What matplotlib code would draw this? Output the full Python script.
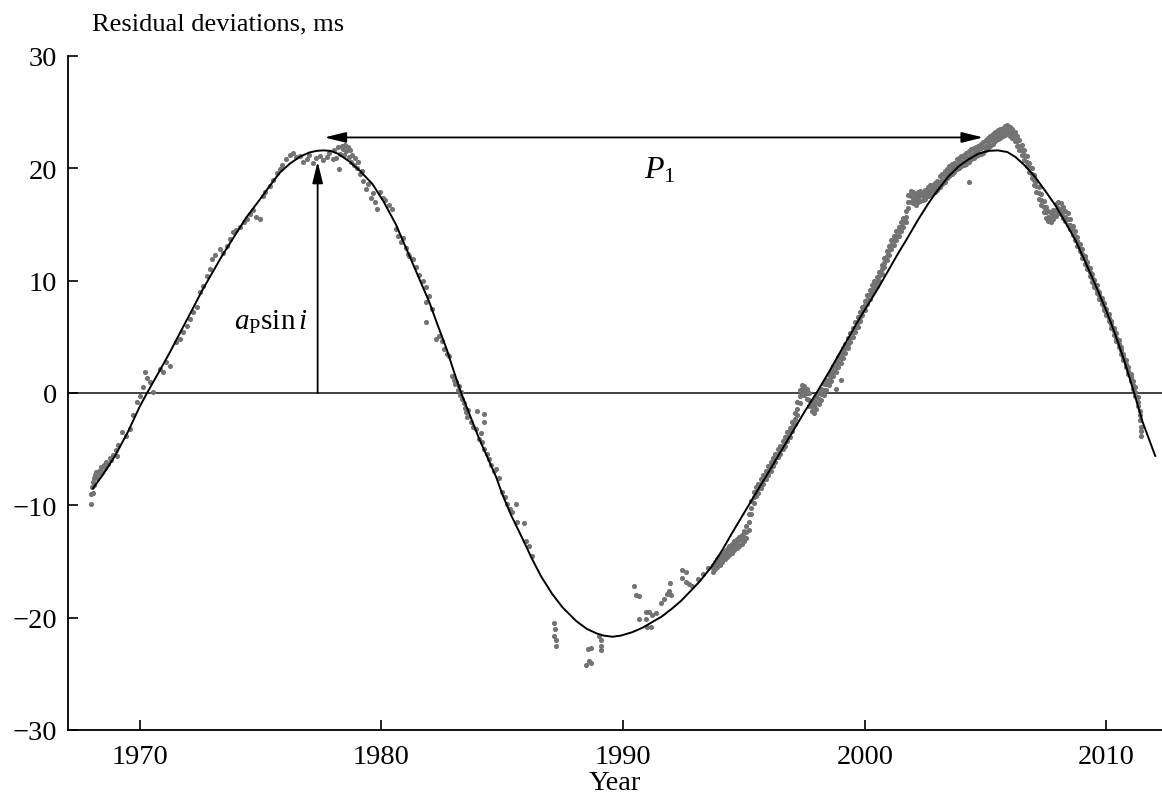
import matplotlib
matplotlib.use("Agg")
import matplotlib.pyplot as plt

plt.rcParams['font.family'] = ['Liberation Serif', 'DejaVu Serif']
plt.rcParams['mathtext.fontset'] = 'custom'
plt.rcParams['mathtext.rm'] = 'Liberation Serif'
plt.rcParams['mathtext.it'] = 'Liberation Serif:italic'

# ---- fitted orbital curve ----
curve_year = [1968.06, 1968.5, 1969.0, 1969.5, 1970.0, 1970.3, 1970.8, 1971.24, 1971.7, 1972.19,
              1972.6, 1973.0, 1973.4, 1973.84, 1974.4, 1974.96, 1975.4, 1975.79, 1976.2, 1976.6,
              1977.0, 1977.3, 1977.6, 1977.9, 1978.2, 1978.68, 1979.1, 1979.63, 1980.1, 1980.6,
              1981.0, 1981.28, 1981.6, 1981.98, 1982.3, 1982.7, 1983.0, 1983.3, 1983.7, 1984.05,
              1984.4, 1984.75, 1985.0, 1985.35, 1985.8, 1986.24, 1986.6, 1987.07, 1987.5, 1988.06,
              1988.5, 1988.9, 1989.2, 1989.56, 1989.9, 1990.37, 1990.8, 1991.2, 1991.6, 1992.02,
              1992.4, 1992.85, 1993.2, 1993.68, 1994.1, 1994.5, 1995.0, 1995.5, 1995.95, 1996.5,
              1997.0, 1997.5, 1998.0, 1998.5, 1999.0, 1999.38, 1999.8, 2000.2, 2000.6, 2001.0,
              2001.4, 2001.74, 2002.2, 2002.64, 2003.0, 2003.47, 2003.9, 2004.3, 2004.7, 2005.1,
              2005.5, 2005.9, 2006.24, 2006.6, 2007.06, 2007.5, 2007.89, 2008.3, 2008.72, 2009.1,
              2009.55, 2010.0, 2010.37, 2010.75, 2011.12, 2011.5, 2012.02]
curve_res = [-8.5, -7.2, -5.5, -3.5, -1.2, 0.0, 1.9, 3.6, 5.5, 7.5,
             9.2, 10.7, 12.2, 13.7, 15.6, 17.2, 18.5, 19.6, 20.4, 21.0,
             21.4, 21.55, 21.6, 21.55, 21.3, 20.6, 19.8, 18.6, 17.0, 15.0,
             13.0, 11.6, 10.0, 8.1, 6.2, 3.9, 1.9, 0.0, -2.2, -4.1,
             -5.8, -7.5, -9.0, -10.8, -12.8, -14.8, -16.3, -17.9, -19.1, -20.3,
             -21.0, -21.4, -21.6, -21.7, -21.6, -21.3, -20.9, -20.4, -19.9, -19.2,
             -18.5, -17.5, -16.7, -15.4, -14.0, -12.5, -10.7, -8.9, -7.3, -5.3,
             -3.5, -1.7, 0.0, 1.8, 3.7, 5.1, 6.7, 8.1, 9.5, 11.0,
             12.5, 13.7, 15.4, 16.9, 18.0, 19.3, 20.2, 20.8, 21.3, 21.55,
             21.6, 21.45, 21.0, 20.3, 19.2, 17.9, 16.7, 15.2, 13.6, 11.8,
             9.6, 7.3, 5.2, 2.8, 0.2, -2.6, -5.6]

# ---- timing residuals, 1968-1978 ----
early_year = [1968.0, 1968.0, 1968.02, 1968.05, 1968.05, 1968.1, 1968.12, 1968.15, 1968.2, 1968.25,
              1968.3, 1968.35, 1968.4, 1968.45, 1968.5, 1968.55, 1968.6, 1968.7, 1968.75, 1968.8,
              1968.9, 1969.0, 1969.05, 1969.1, 1969.26, 1969.45, 1969.6, 1969.7, 1969.88, 1970.0,
              1970.12, 1970.2, 1970.3, 1970.41, 1970.54, 1970.83, 1970.95, 1971.1, 1971.24, 1971.5,
              1971.65, 1971.78, 1971.94, 1972.07, 1972.19, 1972.36, 1972.48, 1972.6, 1972.77, 1972.9,
              1973.0, 1973.1, 1973.3, 1973.43, 1973.6, 1973.72, 1973.84, 1974.0, 1974.13, 1974.3,
              1974.42, 1974.55, 1974.7, 1974.83, 1974.96, 1975.08, 1975.2, 1975.37, 1975.5, 1975.66,
              1975.79, 1975.9, 1976.05, 1976.2, 1976.32, 1976.45, 1976.61, 1976.75, 1976.9, 1977.0,
              1977.15, 1977.3, 1977.44, 1977.6, 1977.73, 1977.85, 1977.98]
early_res = [-9.9, -9.0, -8.4, -7.9, -8.9, -7.6, -8.2, -7.3, -7.0, -7.6,
             -6.9, -7.2, -6.6, -7.0, -6.4, -6.7, -6.1, -6.3, -5.8, -6.0,
             -5.5, -5.1, -5.6, -4.6, -3.5, -3.8, -3.2, -2.0, -0.8, -0.3,
             0.5, 1.9, 1.3, 1.0, 0.1, 2.1, 1.9, 2.8, 2.4, 4.5,
             4.8, 5.4, 6.0, 6.6, 7.2, 7.7, 9.0, 9.5, 10.4, 11.0,
             11.9, 12.3, 12.8, 12.5, 13.1, 13.7, 14.3, 14.5, 14.8, 15.2,
             15.5, 15.9, 16.3, 15.7, 15.5, 17.5, 17.9, 18.4, 19.0, 19.6,
             19.9, 20.3, 20.8, 21.2, 21.4, 21.0, 21.1, 20.6, 20.8, 21.2,
             20.5, 20.9, 21.1, 20.7, 21.0, 21.4, 20.8]

# ---- timing residuals, 1978-1986 ----
descent_year = [1978.05, 1978.1, 1978.2, 1978.26, 1978.3, 1978.35, 1978.4, 1978.45, 1978.5, 1978.55,
                1978.6, 1978.65, 1978.7, 1978.75, 1978.8, 1978.85, 1978.9, 1979.0, 1979.05, 1979.1,
                1979.2, 1979.25, 1979.35, 1979.45, 1979.55, 1979.65, 1979.75, 1979.83, 1979.95, 1980.05,
                1980.15, 1980.3, 1980.45, 1980.6, 1980.7, 1980.8, 1980.9, 1981.0, 1981.1, 1981.16,
                1981.3, 1981.45, 1981.55, 1981.7, 1981.86, 1981.86, 1981.98, 1982.1, 1981.86, 1982.27,
                1982.4, 1982.5, 1982.6, 1982.7, 1982.8, 1982.93, 1983.0, 1983.05, 1983.1, 1983.15,
                1983.2, 1983.25, 1983.3, 1983.35, 1983.4, 1983.45, 1983.5, 1983.55, 1983.6, 1983.7,
                1983.8, 1983.93, 1983.97, 1984.26, 1984.26, 1984.05, 1984.1, 1984.17, 1984.25, 1984.35,
                1984.45, 1984.55, 1984.65, 1984.75, 1984.88, 1985.0, 1985.1, 1985.2, 1985.3, 1985.41,
                1985.58, 1985.6, 1985.91, 1985.99, 1986.12, 1986.24]
descent_res = [21.6, 20.9, 21.9, 19.9, 21.3, 22.0, 21.7, 21.2, 22.1, 21.5,
               21.9, 21.0, 21.6, 20.6, 21.2, 20.3, 20.9, 20.0, 20.6, 19.5,
               19.8, 18.9, 18.2, 18.6, 17.4, 17.8, 17.0, 16.4, 17.9, 17.4,
               17.2, 16.7, 16.4, 14.6, 14.0, 13.4, 13.8, 12.9, 12.4, 12.2,
               11.9, 11.2, 10.5, 10.0, 9.4, 8.1, 8.6, 7.5, 6.3, 4.8,
               5.1, 4.6, 3.9, 3.5, 3.3, 1.5, 1.2, 0.8, 1.0, 0.3,
               0.6, -0.2, 0.1, -0.5, -0.9, -1.3, -1.7, -2.1, -1.5, -2.6,
               -3.0, -3.2, -1.6, -1.9, -2.6, -4.1, -3.6, -4.4, -5.0, -5.4,
               -5.9, -6.4, -6.9, -6.8, -7.6, -8.8, -9.3, -9.9, -10.3, -10.6,
               -9.9, -11.5, -11.6, -13.2, -13.6, -14.5]

# ---- timing residuals around the minimum, 1987-1993 ----
minimum_year = [1987.15, 1987.2, 1987.15, 1987.22, 1987.22, 1988.55, 1988.68, 1988.47, 1988.6, 1988.66,
                1989.0, 1989.08, 1989.08, 1989.08, 1990.45, 1990.54, 1990.66, 1990.66, 1990.95, 1991.07,
                1991.2, 1991.36, 1991.0, 1991.16, 1990.95, 1991.55, 1991.7, 1991.8, 1991.9, 1992.0,
                1991.95, 1992.44, 1992.6, 1992.44, 1992.6, 1992.73, 1992.85, 1993.1, 1993.3, 1993.5]
minimum_res = [-20.5, -21.0, -21.6, -22.0, -22.5, -22.8, -22.7, -24.2, -23.9, -24.0,
               -21.6, -22.0, -22.5, -22.9, -17.2, -18.0, -18.1, -20.1, -19.5, -19.5,
               -19.8, -19.6, -20.8, -20.8, -20.1, -18.7, -18.3, -17.9, -17.6, -18.0,
               -16.9, -15.8, -15.9, -16.5, -16.8, -17.0, -17.2, -16.6, -16.1, -15.6]

# ---- dense band of residuals, 1993.7-2011.5 (upper edge, middle and lower edge) ----
band_year = [1993.7, 1993.8, 1993.9, 1994.0, 1994.1, 1994.2, 1994.3, 1994.4, 1994.5, 1994.6,
             1994.7, 1994.8, 1994.9, 1995.0, 1995.1, 1995.2, 1995.3, 1995.4, 1995.5, 1995.6,
             1995.7, 1995.8, 1995.9, 1996.0, 1996.1, 1996.2, 1996.3, 1996.4, 1996.5, 1996.6,
             1996.7, 1996.8, 1996.9, 1997.0, 1997.1, 1997.2, 1997.3, 1997.4, 1997.5, 1997.6,
             1997.7, 1997.8, 1997.9, 1998.0, 1998.1, 1998.2, 1998.3, 1998.4, 1998.5, 1998.6,
             1998.7, 1998.8, 1998.9, 1999.0, 1999.1, 1999.2, 1999.3, 1999.4, 1999.5, 1999.6,
             1999.7, 1999.8, 1999.9, 2000.0, 2000.1, 2000.2, 2000.3, 2000.4, 2000.5, 2000.6,
             2000.7, 2000.8, 2000.9, 2001.0, 2001.1, 2001.2, 2001.3, 2001.4, 2001.5, 2001.6,
             2001.7, 2001.8, 2001.9, 2002.0, 2002.1, 2002.2, 2002.3, 2002.4, 2002.5, 2002.6,
             2002.7, 2002.8, 2002.9, 2003.0, 2003.1, 2003.2, 2003.3, 2003.4, 2003.5, 2003.6,
             2003.7, 2003.8, 2003.9, 2004.0, 2004.1, 2004.2, 2004.3, 2004.4, 2004.5, 2004.6,
             2004.7, 2004.8, 2004.9, 2005.0, 2005.1, 2005.2, 2005.3, 2005.4, 2005.5, 2005.6,
             2005.7, 2005.8, 2005.9, 2006.0, 2006.1, 2006.2, 2006.3, 2006.4, 2006.5, 2006.6,
             2006.7, 2006.8, 2006.9, 2007.0, 2007.1, 2007.2, 2007.3, 2007.4, 2007.5, 2007.6,
             2007.7, 2007.8, 2007.9, 2008.0, 2008.1, 2008.2, 2008.3, 2008.4, 2008.5, 2008.6,
             2008.7, 2008.8, 2008.9, 2009.0, 2009.1, 2009.2, 2009.3, 2009.4, 2009.5, 2009.6,
             2009.7, 2009.8, 2009.9, 2010.0, 2010.1, 2010.2, 2010.3, 2010.4, 2010.5, 2010.6,
             2010.7, 2010.8, 2010.9, 2011.0, 2011.1, 2011.2, 2011.3, 2011.4, 2011.45]
band_hi = [-15.3, -15.0, -14.8, -14.5, -14.3, -14.1, -13.9, -13.6, -13.4, -13.2,
           -13.0, -12.8, -12.6, -12.3, -11.8, -10.8, -9.6, -8.8, -8.4, -8.1,
           -7.7, -7.3, -6.9, -6.5, -6.1, -5.8, -5.4, -5.0, -4.7, -4.3,
           -3.9, -3.5, -3.1, -2.6, -1.8, -0.8, 0.3, 0.7, 0.6, 0.4,
           0.0, -0.8, -0.6, -0.3, 0.0, 0.4, 0.8, 1.2, 1.6, 2.0,
           2.4, 2.8, 3.2, 3.6, 4.0, 4.4, 4.9, 5.3, 5.8, 6.3,
           6.8, 7.2, 7.7, 8.2, 8.7, 9.2, 9.6, 10.0, 10.3, 10.8,
           11.4, 12.0, 12.6, 13.1, 13.6, 14.0, 14.4, 14.8, 15.2, 15.6,
           16.2, 17.6, 18.0, 17.9, 17.6, 17.9, 18.0, 17.8, 18.1, 18.3,
           18.5, 18.5, 18.7, 18.9, 19.3, 19.5, 19.8, 19.9, 20.2, 20.4,
           20.5, 20.8, 20.9, 21.1, 21.2, 21.4, 21.5, 21.7, 21.8, 21.9,
           22.0, 22.2, 22.3, 22.5, 22.7, 22.9, 23.1, 23.2, 23.4, 23.5,
           23.6, 23.8, 23.9, 23.7, 23.5, 23.2, 22.9, 22.5, 22.1, 21.6,
           21.1, 20.5, 20.0, 19.4, 18.9, 18.3, 17.7, 17.1, 16.6, 16.2,
           16.0, 16.3, 16.8, 17.0, 16.9, 16.6, 16.2, 16.0, 15.5, 14.9,
           14.4, 13.9, 13.3, 12.8, 12.2, 11.7, 11.1, 10.6, 10.1, 9.6,
           9.0, 8.5, 8.0, 7.5, 7.0, 6.4, 5.8, 5.3, 4.7, 4.1,
           3.5, 2.9, 2.3, 1.7, 1.1, 0.5, -0.4, -1.6, -3.0]
band_mid = [-15.6, -15.4, -15.1, -14.9, -14.7, -14.4, -14.3, -14.0, -13.8, -13.5,
            -13.4, -13.1, -13.0, -12.8, -12.4, -11.5, -10.2, -9.3, -8.8, -8.5,
            -8.1, -7.7, -7.3, -6.9, -6.5, -6.2, -5.7, -5.4, -5.0, -4.7,
            -4.3, -3.9, -3.5, -3.0, -2.3, -1.4, -0.3, 0.4, 0.2, 0.0,
            -0.6, -1.2, -1.2, -0.9, -0.5, -0.1, 0.3, 0.8, 1.2, 1.5,
            2.0, 2.3, 2.8, 3.1, 3.6, 4.0, 4.4, 4.9, 5.4, 5.8,
            6.3, 6.8, 7.3, 7.8, 8.3, 8.8, 9.2, 9.6, 9.9, 10.4,
            11.0, 11.6, 12.2, 12.7, 13.2, 13.6, 14.0, 14.4, 14.8, 15.2,
            15.7, 17.0, 17.5, 17.4, 17.2, 17.4, 17.6, 17.5, 17.7, 17.9,
            18.0, 18.2, 18.3, 18.5, 18.8, 19.0, 19.3, 19.5, 19.7, 19.9,
            20.1, 20.3, 20.5, 20.6, 20.8, 20.9, 21.0, 21.2, 21.4, 21.5,
            21.6, 21.8, 21.9, 22.0, 22.2, 22.5, 22.6, 22.8, 23.0, 23.1,
            23.2, 23.4, 23.5, 23.3, 23.1, 22.8, 22.4, 22.0, 21.6, 21.2,
            20.6, 20.1, 19.5, 19.0, 18.4, 17.8, 17.2, 16.6, 16.1, 15.7,
            15.6, 15.9, 16.3, 16.5, 16.4, 16.1, 15.7, 15.5, 15.0, 14.5,
            14.0, 13.5, 12.9, 12.4, 11.9, 11.3, 10.8, 10.2, 9.7, 9.2,
            8.7, 8.2, 7.7, 7.2, 6.7, 6.1, 5.5, 4.9, 4.4, 3.8,
            3.2, 2.6, 2.0, 1.4, 0.7, 0.1, -0.8, -2.0, -3.4]
band_lo = [-15.9, -15.7, -15.5, -15.3, -15.0, -14.8, -14.6, -14.4, -14.2, -14.0,
           -13.8, -13.6, -13.4, -13.2, -12.9, -12.2, -10.8, -9.8, -9.2, -8.9,
           -8.5, -8.1, -7.7, -7.3, -6.9, -6.5, -6.1, -5.7, -5.4, -5.0,
           -4.7, -4.3, -3.9, -3.4, -2.8, -2.0, -0.9, 0.0, -0.2, -0.5,
           -1.2, -1.6, -1.8, -1.4, -1.0, -0.6, -0.2, 0.3, 0.7, 1.1,
           1.5, 1.9, 2.3, 2.7, 3.1, 3.6, 4.0, 4.5, 5.0, 5.4,
           5.9, 6.4, 6.9, 7.4, 7.9, 8.4, 8.8, 9.2, 9.5, 10.0,
           10.6, 11.2, 11.8, 12.3, 12.8, 13.2, 13.6, 14.0, 14.4, 14.8,
           15.2, 16.5, 17.0, 16.9, 16.7, 17.0, 17.1, 17.2, 17.3, 17.5,
           17.6, 17.8, 17.9, 18.1, 18.3, 18.6, 18.8, 19.1, 19.3, 19.5,
           19.7, 19.9, 20.0, 20.2, 20.3, 20.4, 20.6, 20.8, 20.9, 21.1,
           21.2, 21.3, 21.4, 21.6, 21.8, 22.0, 22.2, 22.4, 22.6, 22.7,
           22.9, 23.0, 23.1, 22.9, 22.7, 22.4, 22.0, 21.6, 21.2, 20.7,
           20.2, 19.7, 19.1, 18.5, 17.9, 17.3, 16.7, 16.1, 15.6, 15.3,
           15.2, 15.5, 15.8, 16.0, 15.9, 15.6, 15.3, 15.0, 14.6, 14.1,
           13.6, 13.1, 12.6, 12.0, 11.5, 11.0, 10.4, 9.9, 9.4, 8.9,
           8.4, 7.9, 7.4, 6.9, 6.4, 5.8, 5.2, 4.6, 4.1, 3.5,
           2.9, 2.3, 1.7, 1.1, 0.4, -0.3, -1.2, -2.4, -3.8]

# extra scattered points in the band region
band_extra_year = [1998.8, 2004.3, 1999.0]
band_extra_res = [0.4, 18.8, 1.2]

x_ticks = [1970, 1980, 1990, 2000, 2010]
y_ticks = [-30, -20, -10, 0, 10, 20, 30]

W, H = 1162, 803
fig = plt.figure(figsize=(W / 100, H / 100), dpi=100)
ax = fig.add_axes([68 / W, 1 - 731 / H, (W - 68) / W, (731 - 57) / H])

dot_color = '#737373'
ms = 3.7
for xs, ys in [(early_year, early_res), (descent_year, descent_res),
               (minimum_year, minimum_res), (band_year, band_hi), (band_year, band_mid),
               (band_year, band_lo), (band_extra_year, band_extra_res)]:
    ax.plot(xs, ys, linestyle='none', marker='o', ms=ms, mfc=dot_color, mec='none', zorder=2)

ax.plot(curve_year, curve_res, color='black', lw=1.4, zorder=3)
ax.axhline(0, color='#333333', lw=1.3, zorder=1)

# period arrow
ax.annotate('', xy=(2004.9, 22.75), xytext=(1977.64, 22.75),
            arrowprops=dict(arrowstyle='<|-|>,head_length=1.3,head_width=0.32', color='black',
                            lw=1.3, shrinkA=0, shrinkB=0, mutation_scale=10), zorder=4)
ax.text(1991.5, 19.9, r'$P_1$', fontsize=23, ha='center', va='center')

# amplitude arrow
ax.annotate('', xy=(1977.36, 20.6), xytext=(1977.36, 0),
            arrowprops=dict(arrowstyle='-|>,head_length=1.3,head_width=0.32', color='black',
                            lw=1.3, shrinkA=0, shrinkB=0, mutation_scale=10), zorder=4)
ax.text(1976.95, 6.4, r'$a_{\mathrm{P}}\mathrm{sin}\,i$', fontsize=21, ha='right', va='center')

ax.set_xlim(1967.03, 2012.3)
ax.set_ylim(-30, 30)
ax.set_xticks(x_ticks)
ax.set_yticks(y_ticks)
ax.tick_params(direction='in', length=7.5, width=1.2, labelsize=20.5, colors='black')
ax.tick_params(axis='x', pad=10)
ax.tick_params(axis='y', pad=8)
for side in ['top', 'right']:
    ax.spines[side].set_visible(False)
for side in ['left', 'bottom']:
    ax.spines[side].set_linewidth(1.3)

ax.set_xlabel('Year', fontsize=20.5, labelpad=1)
fig.text(92 / W, 1 - 30 / H, 'Residual deviations, ms', fontsize=19, ha='left', va='baseline')

fig.savefig('out.png', dpi=100)
